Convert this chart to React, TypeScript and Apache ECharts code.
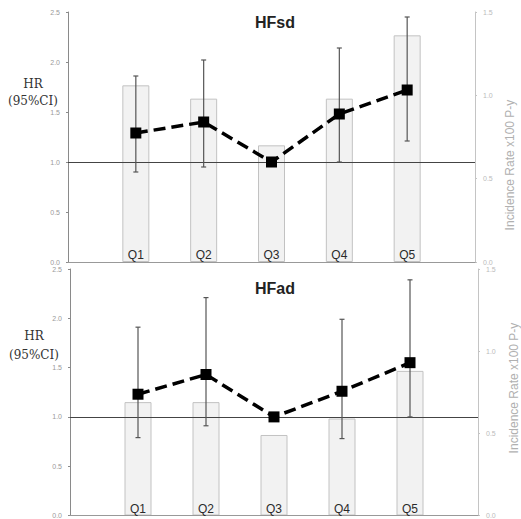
import React, { useEffect, useRef } from "react";
import * as echarts from "echarts";

const categories = ["Q1", "Q2", "Q3", "Q4", "Q5"];

// HFsd panel
const hrSd = [1.29, 1.4, 1.0, 1.48, 1.72];
const loSd = [0.9, 0.95, null, 1.0, 1.21];
const hiSd = [1.86, 2.02, null, 2.14, 2.45];
const rateSd = [1.06, 0.98, 0.7, 0.98, 1.36];

// HFad panel
const hrAd = [1.23, 1.43, 1.0, 1.26, 1.55];
const loAd = [0.79, 0.91, null, 0.78, 1.0];
const hiAd = [1.91, 2.21, null, 1.99, 2.39];
const rateAd = [0.69, 0.69, 0.49, 0.59, 0.88];

const hrTicks = { min: 0, max: 2.5, interval: 0.5 };
const rateTicks = { min: 0, max: 1.5, interval: 0.5 };

const panelTitles = ["HFsd", "HFad"];
const leftAxisName = "HR\n(95%CI)";
const rightAxisName = "Incidence Rate x100 P-y";

function errData(lo: (number | null)[], hi: (number | null)[]) {
  const out: number[][] = [];
  categories.forEach((_, i) => {
    if (lo[i] != null && hi[i] != null) out.push([i + 1, lo[i] as number, hi[i] as number]);
  });
  return out;
}

const renderErr = (params: any, api: any) => {
  const x = api.value(0);
  const top = api.coord([x, api.value(2)]);
  const bot = api.coord([x, api.value(1)]);
  const w = 2.5;
  const st = { stroke: "#555", lineWidth: 1.2 };
  return {
    type: "group",
    children: [
      { type: "line", shape: { x1: top[0], y1: top[1], x2: bot[0], y2: bot[1] }, style: st },
      { type: "line", shape: { x1: top[0] - w, y1: top[1], x2: top[0] + w, y2: top[1] }, style: st },
      { type: "line", shape: { x1: bot[0] - w, y1: bot[1], x2: bot[0] + w, y2: bot[1] }, style: st },
    ],
  };
};

export default function App() {
  const ref = useRef<HTMLDivElement>(null);
  useEffect(() => {
    if (!ref.current) return;
    const chart = echarts.init(ref.current, null, { renderer: "svg" });

    const grids = [
      { left: 68, right: 46, top: 12, height: 250 },
      { left: 70, right: 43, top: 269, height: 249 },
    ];

    const xAxes = grids.map((_, g) => ({
      type: "value",
      gridIndex: g,
      min: 0,
      max: 6,
      interval: 1,
      z: 10,
      axisLine: { show: true, lineStyle: { color: "#999", width: 1 } },
      axisTick: { show: false },
      splitLine: { show: false },
      axisLabel: {
        inside: true,
        margin: 1,
        color: "#2a2a2a",
        fontSize: 12,
        fontFamily: "Liberation Sans, Arial, sans-serif",
        showMinLabel: true,
        showMaxLabel: true,
        formatter: (v: number) => categories[Math.round(v) - 1] || "",
      },
    }));

    const yAxes: any[] = [];
    grids.forEach((_, g) => {
      yAxes.push({
        type: "value",
        gridIndex: g,
        position: "left",
        ...hrTicks,
        axisLine: { show: true, lineStyle: { color: "#8a8a8a" } },
        axisTick: { show: true, length: 2, lineStyle: { color: "#8a8a8a" } },
        splitLine: { show: false },
        axisLabel: {
          color: "#999",
          fontSize: 7,
          margin: 8,
          formatter: (v: number) => v.toFixed(1),
        },
      });
      yAxes.push({
        type: "value",
        gridIndex: g,
        position: "right",
        ...rateTicks,
        axisLine: { show: true, lineStyle: { color: "#c4c4c4" } },
        axisTick: { show: true, length: 2, lineStyle: { color: "#c4c4c4" } },
        splitLine: { show: false },
        axisLabel: {
          color: "#bbb",
          fontSize: 7,
          margin: 8,
          formatter: (v: number) => v.toFixed(1),
        },
      });
    });

    const panels = [
      { hr: hrSd, lo: loSd, hi: hiSd, rate: rateSd },
      { hr: hrAd, lo: loAd, hi: hiAd, rate: rateAd },
    ];

    const series: any[] = [];
    panels.forEach((p, g) => {
      series.push({
        type: "bar",
        xAxisIndex: g,
        yAxisIndex: g * 2 + 1,
        barWidth: 27,
        data: p.rate.map((v, i) => [i + 1, v]),
        itemStyle: { color: "#f2f2f2", borderColor: "#c2c2c2", borderWidth: 1 },
        z: 1,
      });
      series.push({
        type: "custom",
        xAxisIndex: g,
        yAxisIndex: g * 2,
        data: errData(p.lo, p.hi),
        renderItem: renderErr,
        encode: { x: 0, y: [1, 2] },
        z: 3,
      });
      series.push({
        type: "line",
        xAxisIndex: g,
        yAxisIndex: g * 2,
        data: p.hr.map((v, i) => [i + 1, v]),
        symbol: "rect",
        symbolSize: 11,
        itemStyle: { color: "#000" },
        lineStyle: { color: "#000", width: 3.5, type: [12, 6] },
        z: 5,
        markLine: {
          silent: true,
          symbol: "none",
          label: { show: false },
          lineStyle: { color: "#444", width: 1.2, type: "solid" },
          data: [{ yAxis: 1.0 }],
          z: 2,
        },
      });
    });

    chart.setOption({
      animation: false,
      backgroundColor: "#fff",
      title: [
        {
          text: panelTitles[0],
          left: 255,
          top: 14,
          padding: 0,
          textStyle: { fontSize: 16, fontWeight: "bold", color: "#222", fontFamily: "Liberation Sans, Arial, sans-serif" },
        },
        {
          text: panelTitles[1],
          left: 255,
          top: 280,
          padding: 0,
          textStyle: { fontSize: 16, fontWeight: "bold", color: "#222", fontFamily: "Liberation Sans, Arial, sans-serif" },
        },
      ],
      grid: grids,
      xAxis: xAxes,
      yAxis: yAxes,
      series,
      graphic: [
        {
          type: "text",
          x: 33,
          y: 92,
          style: {
            text: leftAxisName,
            align: "center",
            verticalAlign: "middle",
            fontSize: 12,
            lineHeight: 17,
            fontFamily: "DejaVu Serif, serif",
            fill: "#333",
          },
        },
        {
          type: "text",
          x: 34,
          y: 345,
          style: {
            text: leftAxisName,
            align: "center",
            verticalAlign: "middle",
            fontSize: 12,
            lineHeight: 19,
            fontFamily: "DejaVu Serif, serif",
            fill: "#333",
          },
        },
        {
          type: "text",
          x: 510,
          y: 165,
          rotation: Math.PI / 2,
          style: {
            text: rightAxisName,
            align: "center",
            verticalAlign: "middle",
            fontSize: 12,
            fontFamily: "Liberation Sans, Arial, sans-serif",
            fill: "#b0b0b0",
          },
        },
        {
          type: "text",
          x: 514,
          y: 388,
          rotation: Math.PI / 2,
          style: {
            text: rightAxisName,
            align: "center",
            verticalAlign: "middle",
            fontSize: 12,
            fontFamily: "Liberation Sans, Arial, sans-serif",
            fill: "#b0b0b0",
          },
        },
      ],
    });
    return () => chart.dispose();
  }, []);
  return (
    <div
      ref={ref}
      style={{ position: "fixed", left: 0, top: 0, width: 521, height: 519 }}
    />
  );
}
